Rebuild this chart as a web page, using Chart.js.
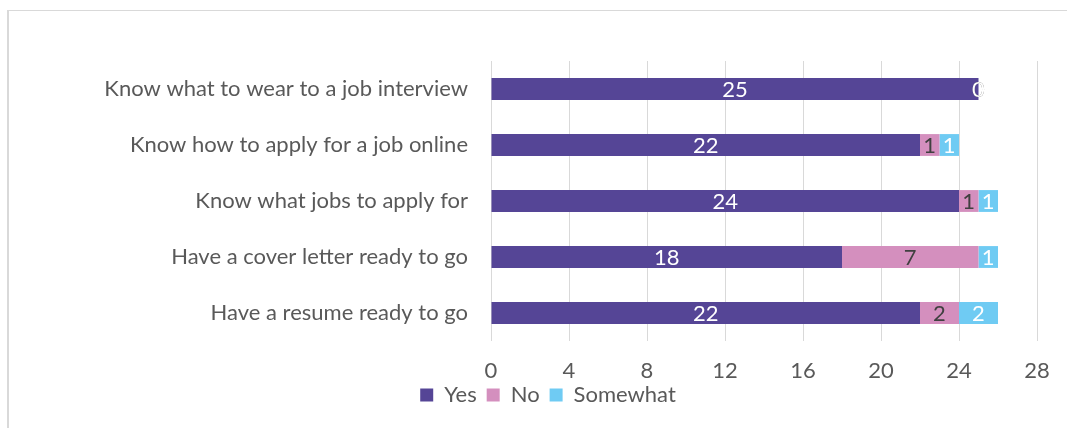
<!DOCTYPE html>
<html>
<head>
<meta charset="utf-8">
<script src="https://cdn.jsdelivr.net/npm/chart.js@4/dist/chart.umd.min.js"></script>
<style>
    html, body { margin: 0; padding: 0; background: #fff; overflow: hidden; }
    .frame {
        position: absolute; left: 7px; top: 10px; width: 1100px; height: 440px;
        border-left: 2px solid #d9d9d9; border-top: 1px solid #d9d9d9;
    }
    .chart-box { position: absolute; left: 0; top: 0; width: 1067px; height: 428px; }
</style>
</head>
<body>
<div class="frame"></div>
<div class="chart-box"><canvas id="readiness-chart"></canvas></div>
<script>
    "use strict";

    var categories = [
        "Know what to wear to a job interview",
        "Know how to apply for a job online",
        "Know what jobs to apply for",
        "Have a cover letter ready to go",
        "Have a resume ready to go"
    ];
    var yesValues = [25, 22, 24, 18, 22];
    var noValues = [0, 1, 1, 7, 2];
    var somewhatValues = [0, 1, 1, 1, 2];
    var xTicks = [0, 4, 8, 12, 16, 20, 24, 28];

    var textColor = "#595959";
    var fontFamily = "Lato, 'Open Sans', sans-serif";
    var fontSize = 22;

    Chart.defaults.color = textColor;
    Chart.defaults.font.family = fontFamily;
    Chart.defaults.font.size = fontSize;

    // Value labels in the middle of each segment
    var segmentLabels = {
        id: "segmentLabels",
        afterDatasetsDraw: function (chart) {
            var ctx = chart.ctx;
            ctx.save();
            ctx.font = fontSize + "px " + fontFamily;
            ctx.textAlign = "center";
            ctx.textBaseline = "middle";
            chart.data.datasets.forEach(function (ds, i) {
                var meta = chart.getDatasetMeta(i);
                meta.data.forEach(function (bar, j) {
                    ctx.fillStyle = ds.labelColor;
                    ctx.fillText(String(ds.data[j]), (bar.x + bar.base) / 2, bar.y + 1);
                });
            });
            ctx.restore();
        }
    };

    // Pull the legend up a little, closer to the axis labels
    var legendNudge = {
        id: "legendNudge",
        afterLayout: function (chart) {
            chart.legend.top -= 10;
            chart.legend.bottom -= 10;
        }
    };

    // Stacked Bar Chart
    var ctx1 = document.getElementById("readiness-chart").getContext("2d");
    var myChart1 = new Chart(ctx1, {
        type: "bar",
        data: {
            labels: categories,
            datasets: [{
                    label: "Yes",
                    data: yesValues,
                    backgroundColor: "#554596",
                    labelColor: "#ffffff"
                },
                {
                    label: "No",
                    data: noValues,
                    backgroundColor: "#d48fbe",
                    labelColor: "#404040"
                },
                {
                    label: "Somewhat",
                    data: somewhatValues,
                    backgroundColor: "#6fcbf3",
                    labelColor: "#ffffff"
                }
            ]
        },
        options: {
            responsive: true,
            maintainAspectRatio: false,
            animation: false,
            indexAxis: "y",
            categoryPercentage: 1,
            barPercentage: 0.39,
            layout: {
                padding: { left: 59, right: 30, top: 61, bottom: 2 }
            },
            scales: {
                x: {
                    stacked: true,
                    min: 0,
                    max: 28,
                    afterBuildTicks: function (scale) {
                        scale.ticks = xTicks.map(function (v) { return { value: v }; });
                    },
                    afterFit: function (scale) {
                        scale.height = 43;
                    },
                    grid: { color: "#d9d9d9", drawTicks: false },
                    border: { display: false },
                    ticks: { padding: 17, color: textColor }
                },
                y: {
                    stacked: true,
                    grid: { display: false },
                    border: { display: false },
                    ticks: { padding: 15, color: textColor },
                    afterFit: function (scale) {
                        scale.width = 432;
                    }
                }
            },
            plugins: {
                legend: {
                    position: "bottom",
                    labels: {
                        boxWidth: 13,
                        boxHeight: 13,
                        padding: 10,
                        color: textColor
                    }
                },
                tooltip: { enabled: false }
            }
        },
        plugins: [segmentLabels, legendNudge]
    });
</script>
</body>
</html>
